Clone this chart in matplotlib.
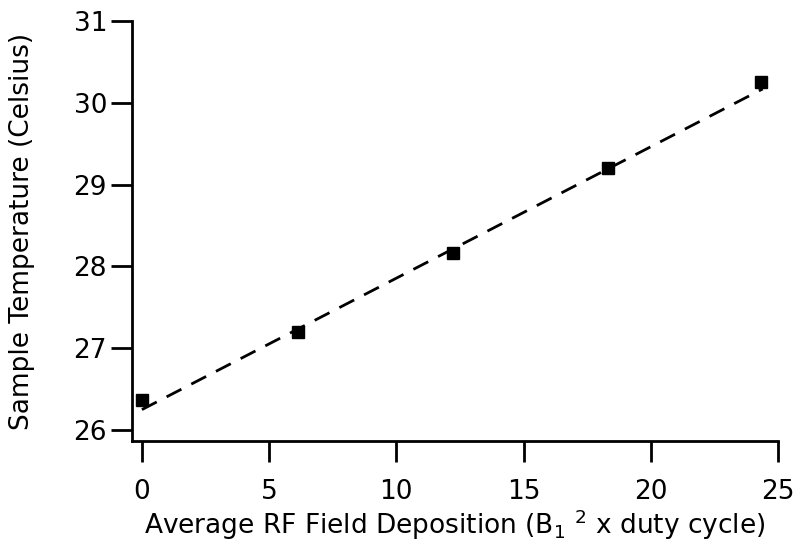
import matplotlib
matplotlib.use('Agg')
import matplotlib.pyplot as plt

# measured points
rf_dep = [0.0, 6.13, 12.22, 18.3, 24.33]
temp_c = [26.37, 27.2, 28.17, 29.2, 30.25]

# linear fit drawn as dashed line (end points)
fit_x = [0.0, 24.4]
fit_y = [26.25, 30.17]

x_ticks = [0, 5, 10, 15, 20, 25]
y_ticks = [26, 27, 28, 29, 30, 31]

plt.rcParams['font.family'] = ['DejaVu Sans']
plt.rcParams['mathtext.fontset'] = 'custom'
plt.rcParams['mathtext.rm'] = 'DejaVu Sans'
plt.rcParams['mathtext.it'] = 'DejaVu Sans'

fig = plt.figure(figsize=(8, 5.51), dpi=100)
ax = fig.add_axes([0.165, 0.1996, 0.8075, 0.7623])

ax.plot(fit_x, fit_y, color='black', linestyle=(0, (6, 4)), linewidth=2.0)
ax.plot(rf_dep, temp_c, linestyle='none', marker='s', markersize=8.5, color='black')

ax.set_xlim(-0.39, 25)
ax.set_ylim(25.866, 31)
ax.set_xticks(x_ticks)
ax.set_yticks(y_ticks)

for s in ['top', 'right']:
    ax.spines[s].set_visible(False)
for s in ['left', 'bottom']:
    ax.spines[s].set_linewidth(2.0)
    ax.spines[s].set_capstyle('projecting')

ax.tick_params(axis='both', direction='out', length=15, width=2.0, labelsize=19, color='black')
ax.tick_params(axis='x', pad=12)
ax.tick_params(axis='y', pad=3)

ax.set_xlabel('Average RF Field Deposition (B$_1$ $^2$ x duty cycle)', fontsize=19, labelpad=2)
ax.set_ylabel('Sample Temperature (Celsius)', fontsize=19, labelpad=28)

fig.savefig('out.png', dpi=100)
plt.close(fig)
